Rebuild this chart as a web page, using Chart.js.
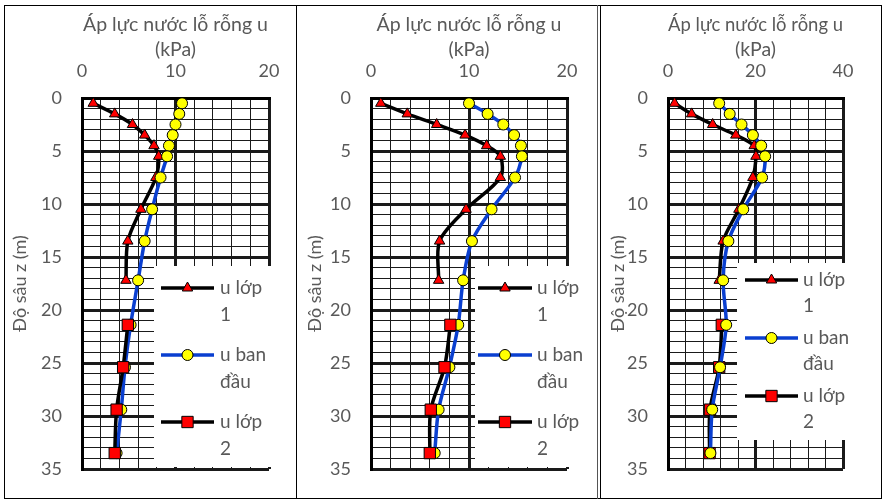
<!DOCTYPE html>
<html>
<head>
<meta charset="utf-8">
<script src="https://cdn.jsdelivr.net/npm/chart.js@4"></script>
<style>
  html, body { margin: 0; padding: 0; background: #fff; }
  #wrap { position: relative; width: 883px; height: 501px; overflow: hidden; }
  canvas { position: absolute; left: 0; top: 0; }
  .ln { position: absolute; background: #000; }
</style>
</head>
<body>
<div id="wrap">
  <canvas id="chart1" width="883" height="501"></canvas>
  <canvas id="chart2" width="883" height="501"></canvas>
  <canvas id="chart3" width="883" height="501"></canvas>
  <div class="ln" style="left:4px;top:5px;width:878px;height:1px"></div>
  <div class="ln" style="left:4px;top:498px;width:878px;height:1px"></div>
  <div class="ln" style="left:4px;top:5px;width:1px;height:494px"></div>
  <div class="ln" style="left:296px;top:5px;width:1px;height:494px"></div>
  <div class="ln" style="left:597px;top:5px;width:1px;height:494px;background:#555"></div>
  <div class="ln" style="left:600px;top:5px;width:1px;height:494px"></div>
  <div class="ln" style="left:881px;top:5px;width:1px;height:494px"></div>
</div>
<script>
// depths (m)
const depthUpper = [0.5, 1.5, 2.5, 3.5, 4.5, 5.5, 7.5, 10.5, 13.5, 17.2];
const depthLower = [21.4, 25.4, 29.4, 33.5];
const depthAll = depthUpper.concat(depthLower);

// panel 1 (kPa)
const uLop1_p1 = [1.2, 3.5, 5.4, 6.7, 7.7, 8.2, 7.9, 6.3, 4.9, 4.7];
const uBan_p1 = [10.7, 10.4, 10.0, 9.7, 9.3, 9.1, 8.4, 7.5, 6.7, 6.0, 5.2, 4.6, 4.2, 3.7];
const uLop2_p1 = [4.9, 4.4, 3.7, 3.5];

// panel 2
const uLop1_p2 = [1.0, 3.7, 6.7, 9.6, 11.8, 13.2, 13.2, 9.7, 7.0, 6.9];
const uBan_p2 = [10.0, 11.9, 13.5, 14.6, 15.3, 15.4, 14.7, 12.3, 10.3, 9.4, 8.9, 8.0, 6.9, 6.5];
const uLop2_p2 = [8.1, 7.5, 6.1, 6.0];

// panel 3
const uLop1_p3 = [1.5, 5.4, 10.2, 15.5, 19.7, 20.1, 19.4, 16.2, 12.6, 11.7];
const uBan_p3 = [11.7, 14.1, 16.8, 19.4, 21.3, 22.2, 21.5, 17.2, 13.8, 12.6, 13.3, 11.9, 10.1, 9.7];
const uLop2_p3 = [12.3, 11.7, 9.6, 9.5];

const xTitle = ['Áp lực nước lỗ rỗng u', '(kPa)'];
const yTitle = 'Độ sâu z (m)';
const legendLabels = [['u lớp', '1'], ['u ban', 'đầu'], ['u lớp', '2']];

const FONT = 'Lato, "Open Sans", sans-serif';
const GRAY = '#595959';
const BLUE = '#0a3fd0';

function toPoints(xs, ys) {
    return xs.map((v, i) => ({ x: v, y: ys[i] }));
}

// Draw a marker like the chart's own point styles
function drawMarker(ctx, style, x, y, r) {
    ctx.beginPath();
    if (style === 'circle') {
        ctx.arc(x, y, r, 0, Math.PI * 2);
    } else if (style === 'rect') {
        const s = Math.SQRT1_2 * r;
        ctx.rect(x - s, y - s, 2 * s, 2 * s);
    } else {
        ctx.moveTo(x, y - r);
        ctx.lineTo(x + Math.sin(Math.PI * 2 / 3) * r, y + r / 2);
        ctx.lineTo(x - Math.sin(Math.PI * 2 / 3) * r, y + r / 2);
        ctx.closePath();
    }
    ctx.fill();
    ctx.stroke();
}

// Legend box drawn inside the plot, as in the original
const boxLegend = {
    id: 'boxLegend',
    afterDraw(chart, args, opts) {
        const ctx = chart.ctx;
        ctx.save();
        ctx.fillStyle = '#fff';
        ctx.fillRect(opts.x, opts.y, opts.w, opts.h);
        ctx.font = '19px ' + FONT;
        ctx.textBaseline = 'middle';
        ctx.textAlign = 'left';
        opts.entries.forEach((idx, k) => {
            const ds = chart.data.datasets[idx];
            const cy = opts.firstY + k * opts.gap;
            ctx.strokeStyle = ds.borderColor;
            ctx.lineWidth = ds.borderWidth;
            ctx.beginPath();
            ctx.moveTo(opts.x1, cy);
            ctx.lineTo(opts.x2, cy);
            ctx.stroke();
            ctx.fillStyle = ds.pointBackgroundColor;
            ctx.strokeStyle = ds.pointBorderColor;
            ctx.lineWidth = ds.pointBorderWidth;
            drawMarker(ctx, ds.pointStyle, (opts.x1 + opts.x2) / 2, cy, ds.pointRadius);
            ctx.fillStyle = GRAY;
            const lines = legendLabels[k];
            ctx.fillText(lines[0], opts.tx, cy);
            ctx.fillText(lines[1], opts.tx, cy + opts.lineGap);
        });
        ctx.restore();
    }
};

function makeDatasets(l1, ban, l2, banOnTop) {
    return [
        {
            label: 'u lớp 1',
            data: toPoints(l1, depthUpper),
            showLine: true, tension: 0.3,
            borderColor: '#000', borderWidth: 3.5,
            pointStyle: 'triangle', pointRadius: 6,
            pointBackgroundColor: '#ff0000', pointBorderColor: '#000', pointBorderWidth: 1,
            order: 3
        },
        {
            label: 'u ban đầu',
            data: toPoints(ban, depthAll),
            showLine: true, tension: 0.3,
            borderColor: BLUE, borderWidth: 3.5,
            pointStyle: 'circle', pointRadius: 5.5,
            pointBackgroundColor: '#ffff00', pointBorderColor: '#000', pointBorderWidth: 1,
            order: banOnTop ? 1 : 2
        },
        {
            label: 'u lớp 2',
            data: toPoints(l2, depthLower),
            showLine: true, tension: 0.3,
            borderColor: '#000', borderWidth: 3.5,
            pointStyle: 'rect', pointRadius: 8,
            pointBackgroundColor: '#ff0000', pointBorderColor: '#000', pointBorderWidth: 1,
            order: banOnTop ? 2 : 1
        }
    ];
}

function makeChart(id, cfg) {
    const grid = (major) => ({
        color: '#1a1a1a',
        lineWidth: c => (c.tick && c.tick.value % major === 0) ? 3 : 1,
        drawTicks: false
    });
    return new Chart(document.getElementById(id), {
        type: 'scatter',
        data: { datasets: makeDatasets(cfg.l1, cfg.ban, cfg.l2, cfg.banOnTop) },
        options: {
            responsive: false,
            animation: false,
            events: [],
            layout: { padding: { left: cfg.padLeft, top: 5, right: 883 - cfg.plotRight, bottom: 32 } },
            plugins: {
                legend: { display: false },
                tooltip: { enabled: false },
                boxLegend: cfg.legend
            },
            scales: {
                x: {
                    type: 'linear',
                    position: 'top',
                    min: 0, max: cfg.xMax,
                    afterFit: s => { s.height = 93; },
                    ticks: {
                        stepSize: cfg.xMinor,
                        autoSkip: false, maxRotation: 0,
                        padding: 16,
                        color: GRAY,
                        font: { family: FONT, size: 18 },
                        callback: v => (v % cfg.xMajor === 0 ? v : '')
                    },
                    grid: grid(cfg.xMajor),
                    border: { display: true, width: 3, color: '#000' },
                    title: {
                        display: true,
                        text: xTitle,
                        color: GRAY,
                        font: { family: FONT, size: 19.5, lineHeight: '25px' },
                        padding: { top: 7.5, bottom: 0 }
                    }
                },
                y: {
                    type: 'linear',
                    reverse: true,
                    min: 0, max: 35,
                    afterFit: s => { s.width = cfg.plotLeft - cfg.padLeft; },
                    ticks: {
                        stepSize: 1,
                        autoSkip: false,
                        padding: 20,
                        color: GRAY,
                        font: { family: FONT, size: 18 },
                        callback: v => (v % 5 === 0 ? v : '')
                    },
                    grid: grid(5),
                    border: { display: true, width: 3, color: '#000' },
                    title: {
                        display: true,
                        text: yTitle,
                        color: GRAY,
                        font: { family: FONT, size: 18 },
                        padding: { top: cfg.yTitlePad, bottom: 0 }
                    }
                }
            }
        },
        plugins: [boxLegend]
    });
}

makeChart('chart1', {
    l1: uLop1_p1, ban: uBan_p1, l2: uLop2_p1, banOnTop: false,
    padLeft: 4, plotLeft: 82, plotRight: 269, xMax: 20, xMajor: 10, xMinor: 2, yTitlePad: 5,
    legend: { x: 154, y: 266, w: 124, h: 201, x1: 161, x2: 214, tx: 220, firstY: 288, gap: 67, lineGap: 27, entries: [0, 1, 2] }
});
makeChart('chart2', {
    l1: uLop1_p2, ban: uBan_p2, l2: uLop2_p2, banOnTop: false,
    padLeft: 297, plotLeft: 371, plotRight: 567, xMax: 20, xMajor: 10, xMinor: 2, yTitlePad: 7,
    legend: { x: 475, y: 266, w: 118, h: 201, x1: 478, x2: 532, tx: 537, firstY: 288, gap: 67, lineGap: 27, entries: [0, 1, 2] }
});
makeChart('chart3', {
    l1: uLop1_p3, ban: uBan_p3, l2: uLop2_p3, banOnTop: true,
    padLeft: 600, plotLeft: 668, plotRight: 843, xMax: 40, xMajor: 20, xMinor: 4, yTitlePad: 7,
    legend: { x: 737, y: 263, w: 122, h: 177, x1: 745, x2: 798, tx: 803, firstY: 280, gap: 58, lineGap: 26, entries: [0, 1, 2] }
});
</script>
</body>
</html>
